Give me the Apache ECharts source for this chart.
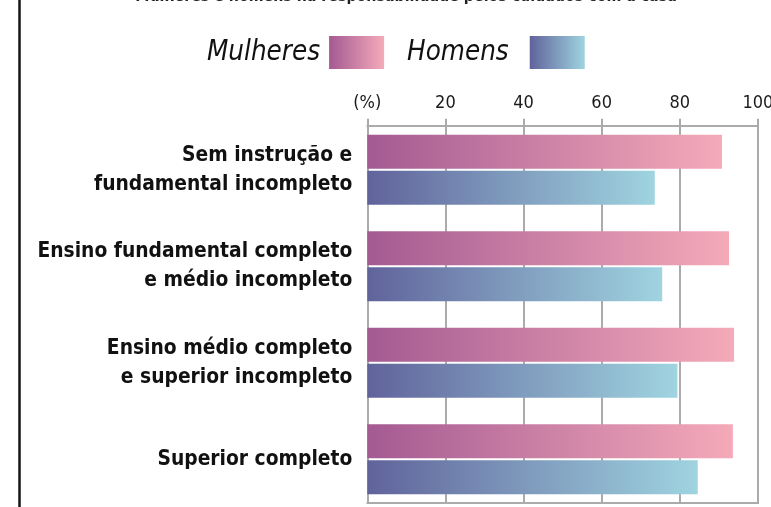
<!DOCTYPE html>
<html>
<head>
<meta charset="utf-8">
<script src="https://cdn.jsdelivr.net/npm/echarts@6/dist/echarts.min.js"></script>
<style>
html,body{margin:0;padding:0;background:#fff;}
#chart{width:771px;height:507px;}
</style>
</head>
<body>
<div id="chart"></div>
<script>
var titleText = 'Mulheres e homens na responsabilidade pelos cuidados com a casa';
var categories = [
  'Sem instrução e\nfundamental incompleto',
  'Ensino fundamental completo\ne médio incompleto',
  'Ensino médio completo\ne superior incompleto',
  'Superior completo'
];
var seriesNames = ['Mulheres', 'Homens'];
var mulheres = [90.8, 92.6, 93.9, 93.6];
var homens = [73.6, 75.5, 79.4, 84.6];
var xTickLabels = ['(%)', '20', '40', '60', '80', '100'];

var FONT = "'DejaVu Sans Condensed', 'DejaVu Sans', sans-serif";
var GREY = '#ababab';

function grad(c1, c2) {
  return new echarts.graphic.LinearGradient(0, 0, 1, 0, [
    {offset: 0, color: c1}, {offset: 1, color: c2}
  ]);
}

var chart = echarts.init(document.getElementById('chart'), null, {renderer: 'canvas'});
chart.setOption({
  backgroundColor: '#ffffff',
  animation: false,
  graphic: [
    {
      type: 'text',
      x: 406, y: -3.5,
      style: {
        text: titleText,
        font: "bold 15.8px 'DejaVu Sans Condensed', 'DejaVu Sans', sans-serif",
        fill: '#222',
        align: 'center',
        verticalAlign: 'middle'
      }
    },
    {
      type: 'line',
      shape: {x1: 19.5, y1: 0, x2: 19.5, y2: 507},
      style: {stroke: '#151515', lineWidth: 2.5}
    },
    {
      type: 'rect',
      z: 100,
      shape: {x: 340, y: 504, width: 431, height: 4},
      style: {fill: '#ffffff'}
    }
  ],
  legend: {
    data: [
      {name: seriesNames[0], textStyle: {padding: [0, 4, 0, 0]}},
      {name: seriesNames[1], textStyle: {padding: [0, 16, 0, 0]}}
    ],
    left: 207,
    top: 36,
    align: 'right',
    icon: 'rect',
    itemWidth: 55,
    itemHeight: 33,
    itemGap: 23,
    padding: 0,
    textStyle: {
      fontFamily: FONT,
      fontStyle: 'italic',
      fontSize: 27.5,
      color: '#111'
    }
  },
  grid: {
    left: 367.3,
    right: 13.1,
    top: 121.55,
    bottom: -0.55,
    outerBoundsMode: 'none',
    containLabel: false
  },
  xAxis: [
    {
      type: 'value',
      position: 'top',
      offset: -4.15,
      min: 0, max: 100, interval: 20,
      axisLine: {show: true, lineStyle: {color: GREY, width: 2}},
      axisTick: {show: true, inside: false, length: 7, lineStyle: {color: GREY, width: 2}},
      axisLabel: {
        show: true,
        margin: 13,
        fontFamily: FONT,
        fontSize: 18,
        color: '#1a1a1a',
        formatter: function (v) { return xTickLabels[Math.round(v / 20)]; }
      },
      splitLine: {show: true, lineStyle: {color: GREY, width: 2}}
    },
    {
      type: 'value',
      position: 'bottom',
      offset: -4.5,
      min: 0, max: 100, interval: 20,
      axisLine: {show: true, lineStyle: {color: GREY, width: 2}},
      axisTick: {show: false},
      axisLabel: {show: false},
      splitLine: {show: false}
    }
  ],
  yAxis: {
    type: 'category',
    inverse: true,
    data: categories,
    axisLine: {show: true, lineStyle: {color: GREY, width: 2}},
    axisTick: {show: false},
    splitLine: {show: false},
    axisLabel: {
      margin: 15,
      fontFamily: FONT,
      fontWeight: 'bold',
      fontSize: 20.8,
      lineHeight: 29,
      color: '#111'
    }
  },
  series: [
    {
      name: seriesNames[0],
      type: 'bar',
      xAxisIndex: 0,
      data: mulheres,
      barWidth: 34,
      barGap: '6%',
      itemStyle: {color: grad('#a45a92', '#f5aab9')}
    },
    {
      name: seriesNames[1],
      type: 'bar',
      xAxisIndex: 0,
      data: homens,
      barWidth: 34,
      barGap: '6%',
      itemStyle: {color: grad('#60639b', '#9fd4e0')}
    }
  ]
});
</script>
</body>
</html>
